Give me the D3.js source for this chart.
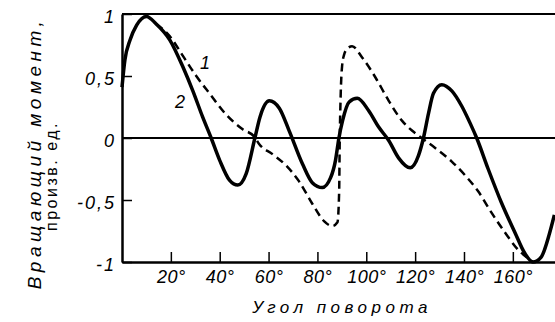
<!DOCTYPE html>
<html>
<head>
<meta charset="utf-8">
<script src="https://cdn.jsdelivr.net/npm/d3@7"></script>
<style>
  body { margin: 0; background: #fff; }
  svg { display: block; }
  text { font-family: "Liberation Sans", Arial, sans-serif; fill: #000; }
</style>
</head>
<body>
<div id="elements"></div>
<script>
'use strict';
// Torque vs rotation angle, curve 1 (dashed) and curve 2 (solid)

// curve 2 (solid)
var angle2  = [0, 1.2, 3.3, 6, 10, 14, 19.6, 25, 29, 33, 36.5, 40, 44, 47.4, 50.8, 54.4, 56.5, 60.3,
               64.4, 68.4, 73.9, 77.9, 82, 85.4, 87.4, 88.8, 90.3, 93, 96.3, 101, 105, 109.2, 113.2,
               118, 121.4, 123.4, 125.5, 127.5, 130.9, 135, 139, 142.5, 145.2, 149.9, 155.3, 160.8,
               164.9, 168.2, 171.6, 175, 177];
var moment2 = [0.41, 0.63, 0.79, 0.91, 0.98, 0.92, 0.79, 0.57, 0.38, 0.17, 0.0, -0.18, -0.34, -0.38, -0.29, 0.0, 0.17, 0.30,
               0.24, 0.06, -0.21, -0.36, -0.40, -0.32, -0.18, 0.0, 0.14, 0.29, 0.32, 0.22, 0.09, -0.02, -0.16,
               -0.24, -0.14, 0.0, 0.2, 0.36, 0.43, 0.38, 0.26, 0.12, 0.0, -0.25, -0.52, -0.76,
               -0.93, -1.0, -0.96, -0.77, -0.62];

// curve 1 (dashed)
var angle1  = [14, 19.6, 25, 30.4, 35.8, 42.6, 49.4, 54.2, 56.2, 61.6, 67.1, 72.5, 77.9, 82.7, 86.1, 88.2,
               88.9, 89.1, 89.5, 90.1, 90.9, 92.2, 94.2, 98.3, 103.7, 109.2, 114.6, 118.7, 122.7, 128.2, 135,
               140.4, 145.8, 151.2, 156.7, 162.1, 166.9, 168.2];
var moment1 = [0.92, 0.82, 0.66, 0.50, 0.36, 0.19, 0.07, 0.01, -0.05, -0.13, -0.22, -0.35, -0.53, -0.67, -0.71, -0.68,
               -0.43, -0.07, 0.33, 0.58, 0.67, 0.72, 0.74, 0.65, 0.49, 0.30, 0.14, 0.06, 0.0, -0.08, -0.19,
               -0.30, -0.43, -0.60, -0.76, -0.90, -0.98, -1.0];

var xTicks = [20, 40, 60, 80, 100, 120, 140, 160];
var yTicks = [-1, -0.5, 0, 0.5, 1];
var xTitle = "Угол поворота";
var yTitle1 = "Вращающий момент,";
var yTitle2 = "произв. ед.";

var width = 555, height = 322;

var svg = d3.select("#elements").append("svg")
    .attr("width", width)
    .attr("height", height);

var x = d3.scaleLinear().domain([0, 180]).range([122, 561.7]);
var y = d3.scaleLinear().domain([-1, 1]).range([262, 14]);

var line = d3.line()
    .x(function(d) { return x(d[0]); })
    .y(function(d) { return y(d[1]); })
    .curve(d3.curveMonotoneX);

// frame: top border and zero line
svg.append("line")
    .attr("x1", x(0)).attr("x2", x(180))
    .attr("y1", y(1)).attr("y2", y(1))
    .attr("stroke", "#000").attr("stroke-width", 2);
svg.append("line")
    .attr("x1", x(0)).attr("x2", x(180))
    .attr("y1", y(0)).attr("y2", y(0))
    .attr("stroke", "#000").attr("stroke-width", 2);

// axes
var axisBottom = svg.append("g")
    .attr("transform", "translate(0," + y(-1) + ")")
    .call(d3.axisBottom(x)
        .tickValues(xTicks)
        .tickSize(-10)
        .tickSizeOuter(0)
        .tickFormat(function(d) { return d + "°"; }));
axisBottom.select(".domain").attr("stroke-width", 2.5);
axisBottom.selectAll(".tick line").attr("stroke-width", 1.5);
axisBottom.selectAll(".tick text")
    .attr("y", 21).attr("dy", 0)
    .style("font-size", "18px").style("font-style", "italic")
    .style("letter-spacing", "0.5px");

var axisLeft = svg.append("g")
    .attr("transform", "translate(" + x(0) + ",0)")
    .call(d3.axisLeft(y)
        .tickValues(yTicks)
        .tickSize(-10)
        .tickSizeOuter(0)
        .tickPadding(6)
        .tickFormat(function(d) { return String(d).replace(".", ","); }));
axisLeft.select(".domain").attr("stroke-width", 2.5);
axisLeft.selectAll(".tick line").attr("stroke-width", 1.5);
axisLeft.selectAll(".tick text")
    .attr("dy", "0.45em")
    .style("font-size", "18px").style("font-style", "italic")
    .style("letter-spacing", "2px");
svg.selectAll(".tick text").attr("fill", "#000").attr("font-family", null);

// curves
svg.append("path")
    .datum(d3.zip(angle1, moment1))
    .attr("d", line)
    .attr("fill", "none")
    .attr("stroke", "#000")
    .attr("stroke-width", 2.5)
    .attr("stroke-dasharray", "8,5");

svg.append("path")
    .datum(d3.zip(angle2, moment2))
    .attr("d", line)
    .attr("fill", "none")
    .attr("stroke", "#000")
    .attr("stroke-width", 3.5);

// curve labels
svg.append("text")
    .attr("x", 205).attr("y", 69)
    .attr("text-anchor", "middle")
    .style("font-size", "18px").style("font-style", "italic")
    .text("1");
svg.append("text")
    .attr("x", 180).attr("y", 108)
    .attr("text-anchor", "middle")
    .style("font-size", "18px").style("font-style", "italic")
    .text("2");

// axis titles
svg.append("text")
    .attr("x", 342).attr("y", 313)
    .attr("text-anchor", "middle")
    .style("font-size", "17px").style("font-style", "italic")
    .style("letter-spacing", "4.5px")
    .text(xTitle);

svg.append("text")
    .attr("transform", "translate(41,153) rotate(-90)")
    .attr("text-anchor", "middle")
    .style("font-size", "19px").style("font-style", "italic")
    .style("letter-spacing", "4.5px")
    .text(yTitle1);

svg.append("text")
    .attr("transform", "translate(57,176) rotate(-90)")
    .attr("text-anchor", "middle")
    .style("font-size", "16px")
    .style("letter-spacing", "2.5px")
    .text(yTitle2);
</script>
</body>
</html>
